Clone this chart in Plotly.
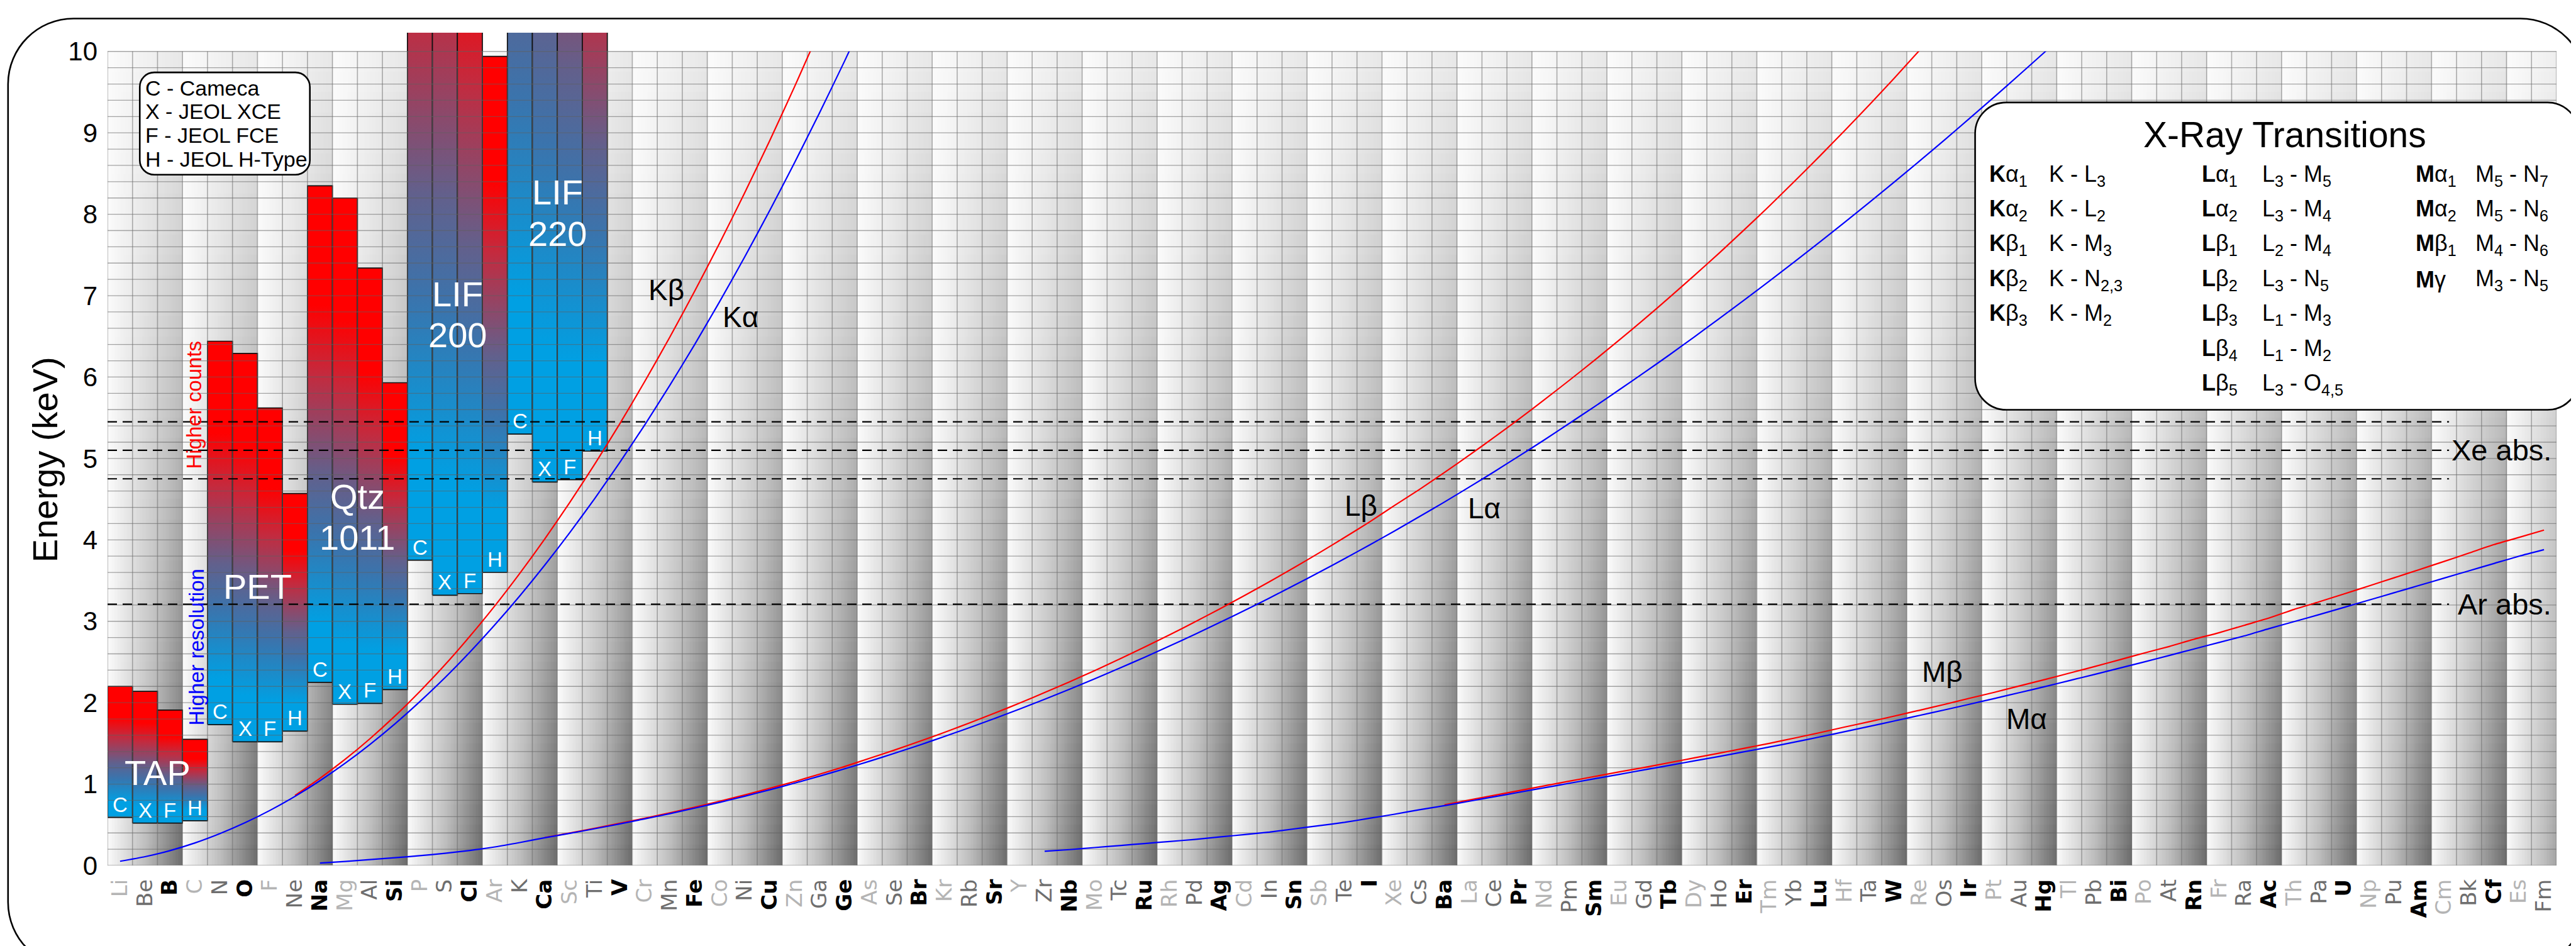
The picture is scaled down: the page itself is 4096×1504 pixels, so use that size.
import numpy as np
import plotly.graph_objects as go

# ---------------- data ----------------
ELEMENTS = ["Li","Be","B","C","N","O","F","Ne","Na","Mg","Al","Si","P","S","Cl","Ar","K","Ca","Sc","Ti",
            "V","Cr","Mn","Fe","Co","Ni","Cu","Zn","Ga","Ge","As","Se","Br","Kr","Rb","Sr","Y","Zr","Nb","Mo",
            "Tc","Ru","Rh","Pd","Ag","Cd","In","Sn","Sb","Te","I","Xe","Cs","Ba","La","Ce","Pr","Nd","Pm","Sm",
            "Eu","Gd","Tb","Dy","Ho","Er","Tm","Yb","Lu","Hf","Ta","W","Re","Os","Ir","Pt","Au","Hg","Tl","Pb",
            "Bi","Po","At","Rn","Fr","Ra","Ac","Th","Pa","U","Np","Pu","Am","Cm","Bk","Cf","Es","Fm"]

SPECTROMETERS = ["C", "X", "F", "H"]
CRYSTALS = ["TAP", "PET", "Qtz<br>1011", "LIF<br>200", "LIF<br>220"]
CRYSTAL_FIRST = ["Li", "N", "Na", "P", "K"]          # first element column of each crystal's 4 bars
TAP_LOW = [0.59, 0.52, 0.52, 0.55]
TAP_HIGH = [2.20, 2.14, 1.91, 1.55]
PET_LOW = [1.73, 1.52, 1.52, 1.65]
PET_HIGH = [6.44, 6.29, 5.62, 4.57]
QTZ_LOW = [2.25, 1.98, 1.99, 2.16]
QTZ_HIGH = [8.35, 8.20, 7.34, 5.93]
LIF200_LOW = [3.75, 3.32, 3.34, 3.60]
LIF200_HIGH = [14.5, 15.0, 13.5, 9.94]   # first three run off the top of the chart
LIF220_LOW = [5.30, 4.71, 4.74, 5.09]
LIF220_HIGH = [19.0, 18.5, 16.7, 14.0]   # all run off the top of the chart

KA_START, KA = "Li", [0.052, 0.108, 0.183, 0.277, 0.392, 0.525, 0.677, 0.849, 1.041, 1.254, 1.487, 1.740,
                      2.014, 2.307, 2.622, 2.957, 3.313, 3.691, 4.090, 4.510, 4.952, 5.414, 5.898, 6.403,
                      6.930, 7.477, 8.047, 8.638, 9.251, 9.885, 10.543]
KB_START, KB = "Ne", [0.86, 1.071, 1.302, 1.557, 1.836, 2.139, 2.464, 2.816, 3.190, 3.590, 4.013, 4.461,
                      4.932, 5.427, 5.947, 6.490, 7.058, 7.649, 8.265, 8.905, 9.572, 10.264]
LA_START, LA = "Na", [0.030, 0.050, 0.072, 0.095, 0.120, 0.150, 0.185, 0.228, 0.282, 0.341, 0.395, 0.452,
                      0.511, 0.573, 0.637, 0.705, 0.776, 0.851, 0.930, 1.012, 1.098, 1.188, 1.282, 1.379,
                      1.480, 1.586, 1.694, 1.806, 1.922, 2.042, 2.166, 2.293, 2.424, 2.558, 2.696, 2.838,
                      2.984, 3.133, 3.286, 3.444, 3.604, 3.769, 3.937, 4.109, 4.286, 4.465, 4.650, 4.839,
                      5.033, 5.229, 5.432, 5.636, 5.845, 6.056, 6.272, 6.494, 6.719, 6.947, 7.179, 7.414,
                      7.654, 7.898, 8.145, 8.396, 8.651, 8.910, 9.174, 9.441, 9.712, 9.987, 10.267]
LB_START, LB = "Ca", [0.344, 0.399, 0.458, 0.519, 0.581, 0.647, 0.717, 0.790, 0.866, 0.948, 1.032, 1.122,
                      1.216, 1.317, 1.419, 1.526, 1.636, 1.752, 1.871, 1.995, 2.124, 2.257, 2.394, 2.536,
                      2.683, 2.834, 2.990, 3.151, 3.316, 3.487, 3.662, 3.843, 4.029, 4.220, 4.422, 4.620,
                      4.828, 5.042, 5.262, 5.489, 5.722, 5.961, 6.205, 6.456, 6.713, 6.978, 7.248, 7.525,
                      7.811, 8.101, 8.402, 8.709, 9.023, 9.343, 9.672, 10.010, 10.355]
MA_START, MA = "Zr", [0.175, 0.195, 0.22, 0.245, 0.27, 0.295, 0.32, 0.35, 0.38, 0.41, 0.45, 0.49, 0.53,
                      0.58, 0.63, 0.685, 0.735, 0.79, 0.845, 0.90, 0.955, 1.01, 1.065, 1.12, 1.175, 1.23,
                      1.285, 1.34, 1.397, 1.455, 1.515, 1.578, 1.643, 1.709, 1.775, 1.843, 1.910, 1.980,
                      2.051, 2.123, 2.195, 2.271, 2.346, 2.423, 2.50, 2.58, 2.66, 2.74, 2.82, 2.91, 2.996,
                      3.082, 3.171, 3.261, 3.35, 3.44, 3.53, 3.62, 3.71, 3.80, 3.88]
MB_START, MB = "Ba", [0.745, 0.805, 0.862, 0.92, 0.978, 1.036, 1.093, 1.15, 1.205, 1.263, 1.322, 1.38, 1.44,
                      1.50, 1.565, 1.63, 1.70, 1.766, 1.835, 1.906, 1.978, 2.053, 2.127, 2.205, 2.282,
                      2.362, 2.443, 2.526, 2.61, 2.69, 2.78, 2.86, 2.95, 3.04, 3.146, 3.239, 3.336, 3.435,
                      3.534, 3.634, 3.735, 3.838, 3.942, 4.03, 4.12]

XE_ABS = [5.45, 5.10, 4.75]
AR_ABS = [3.21]
Y_TICKS = list(range(0, 11))
GRID_STEP = 0.2

TRANS_K = [("K", "α", "1", "K - L<sub>3</sub>"), ("K", "α", "2", "K - L<sub>2</sub>"),
           ("K", "β", "1", "K - M<sub>3</sub>"), ("K", "β", "2", "K - N<sub>2,3</sub>"),
           ("K", "β", "3", "K - M<sub>2</sub>")]
TRANS_L = [("L", "α", "1", "L<sub>3</sub> - M<sub>5</sub>"), ("L", "α", "2", "L<sub>3</sub> - M<sub>4</sub>"),
           ("L", "β", "1", "L<sub>2</sub> - M<sub>4</sub>"), ("L", "β", "2", "L<sub>3</sub> - N<sub>5</sub>"),
           ("L", "β", "3", "L<sub>1</sub> - M<sub>3</sub>"), ("L", "β", "4", "L<sub>1</sub> - M<sub>2</sub>"),
           ("L", "β", "5", "L<sub>3</sub> - O<sub>4,5</sub>")]
TRANS_M = [("M", "α", "1", "M<sub>5</sub> - N<sub>7</sub>"), ("M", "α", "2", "M<sub>5</sub> - N<sub>6</sub>"),
           ("M", "β", "1", "M<sub>4</sub> - N<sub>6</sub>"), ("M", "γ", "", "M<sub>3</sub> - N<sub>5</sub>")]
LEGEND_LINES = ["C - Cameca", "X - JEOL XCE", "F - JEOL FCE", "H - JEOL H-Type"]

# ---------------- geometry / style ----------------
W, H = 4096, 1504
S = W / 4635.0
L = 185 * S
R = W - 4591 * S
T = 49.5 * S
B = H - 1548 * S
PW, PH = W - L - R, H - T - B
YMAX = 10.23
NCOL = len(ELEMENTS)
FONT = "Liberation Sans, Arial, sans-serif"


def PX(xf):
    return (xf * S - L) / PW


def PY(yf):
    return 1 - (yf * S - T) / PH


def fs(v):
    return int(round(v * S))


def idx(el):
    return ELEMENTS.index(el)


fig = go.Figure()

# background gradient columns (groups of three)
NSUB, NY = 16, 40
xs = (np.arange(NCOL * NSUB) + 0.5) / NSUB - 0.5
col = np.floor(xs + 0.5)
u = ((col % 3) + (xs + 0.5 - col)) / 3.0
ys = (np.arange(NY) + 0.5) * 10.0 / NY
vy = 1 - 0.085 * ys
z = np.outer(vy, u)
fig.add_trace(go.Heatmap(x=xs, y=ys, z=z, zmin=0, zmax=1, showscale=False, hoverinfo="skip",
                         colorscale=[[0, "#fbfbfb"], [0.5, "#bdbdbd"], [1, "#6a6a6a"]], zsmooth=False))

# crystal bars
CS = [[0, "#00a0e3"], [0.12, "#00a0e3"], [0.30, "#3a74ad"], [0.42, "#62608c"],
      [0.62, "#c42a3e"], [0.76, "#ff0000"], [1, "#ff0000"]]
LOWS = [TAP_LOW, PET_LOW, QTZ_LOW, LIF200_LOW, LIF220_LOW]
HIGHS = [TAP_HIGH, PET_HIGH, QTZ_HIGH, LIF200_HIGH, LIF220_HIGH]
letter_ann = []
for c, first in enumerate(CRYSTAL_FIRST):
    i0 = idx(first)
    for k, sp in enumerate(SPECTROMETERS):
        xi = i0 + k
        lo, hi = LOWS[c][k], HIGHS[c][k]
        fig.add_trace(go.Scatter(x=[xi - 0.5, xi + 0.5, xi + 0.5, xi - 0.5, xi - 0.5],
                                 y=[lo, lo, hi, hi, lo], mode="lines", fill="toself",
                                 fillgradient=dict(type="vertical", colorscale=CS, start=lo, stop=hi),
                                 line=dict(color="#111111", width=1.7), hoverinfo="skip"))
        letter_ann.append(dict(x=xi, y=lo, xref="x", yref="y", text=sp, showarrow=False,
                               xanchor="center", yanchor="bottom", yshift=0,
                               font=dict(family=FONT, size=fs(37), color="white")))

# grid lines (drawn above the bars)
gx, gy = [], []
for v in np.arange(0, 10 + 1e-9, GRID_STEP):
    gx += [-0.5, NCOL - 0.5, None]
    gy += [v, v, None]
fig.add_trace(go.Scatter(x=gx, y=gy, mode="lines", line=dict(color="rgba(95,95,95,0.55)", width=1.3),
                         hoverinfo="skip"))
vx, vyy = [], []
for k in range(NCOL + 1):
    vx += [k - 0.5, k - 0.5, None]
    vyy += [0, 10, None]
fig.add_trace(go.Scatter(x=vx, y=vyy, mode="lines", line=dict(color="rgba(110,110,110,0.55)", width=1.6),
                         hoverinfo="skip"))

# absorption dashed lines (on the clipped 0-10 subplot)
DASH_END = 93.2
for v in XE_ABS + AR_ABS:
    fig.add_trace(go.Scatter(x=[-0.5, DASH_END], y=[v, v], yaxis="y2", mode="lines",
                             line=dict(color="black", width=2.2, dash="15px,9px"), hoverinfo="skip"))

# emission curves
for start, vals, color in [(KB_START, KB, "#ff0000"), (KA_START, KA, "#0000ff"),
                           (LB_START, LB, "#ff0000"), (LA_START, LA, "#0000ff"),
                           (MB_START, MB, "#ff0000"), (MA_START, MA, "#0000ff")]:
    x = list(range(idx(start), idx(start) + len(vals)))
    fig.add_trace(go.Scatter(x=x, y=vals, yaxis="y2", mode="lines",
                             line=dict(color=color, width=2.2, shape="spline", smoothing=0.6),
                             hoverinfo="skip"))

# ---------------- annotations ----------------
ann = list(letter_ann)
CRYSTAL_Y = [[1.14], [3.43], [4.53, 4.03], [7.02, 6.52], [8.27, 7.76]]
for c, name in enumerate(CRYSTALS):
    xc = idx(CRYSTAL_FIRST[c]) + 1.5
    for part, yv in zip(name.split("<br>"), CRYSTAL_Y[c]):
        ann.append(dict(x=xc, y=yv, xref="x", yref="y", text=part, showarrow=False,
                        xanchor="center", yanchor="middle",
                        font=dict(family=FONT, size=fs(63), color="white")))

for txt, xv, yv in [("Kβ", 21.87, 7.07), ("Kα", 24.83, 6.74), ("Lβ", 49.65, 4.42),
                    ("Lα", 54.58, 4.39), ("Mβ", 72.93, 2.38), ("Mα", 76.29, 1.80)]:
    ann.append(dict(x=xv, y=yv, xref="x", yref="y", text=txt, showarrow=False,
                    xanchor="center", yanchor="middle", font=dict(family=FONT, size=fs(52), color="black")))

ann.append(dict(x=PX(4584), y=XE_ABS[1], xref="paper", yref="y", text="Xe abs.", showarrow=False,
                xanchor="right", yanchor="middle", font=dict(family=FONT, size=fs(53), color="black")))
ann.append(dict(x=PX(4584), y=AR_ABS[0], xref="paper", yref="y", text="Ar abs.", showarrow=False,
                xanchor="right", yanchor="middle", font=dict(family=FONT, size=fs(53), color="black")))

ann.append(dict(x=2.95, y=5.66, xref="x", yref="y", text="Higher counts", showarrow=False, textangle=-90,
                xanchor="center", yanchor="middle", font=dict(family=FONT, size=fs(37), color="#ff0000")))
ann.append(dict(x=3.06, y=2.68, xref="x", yref="y", text="Higher resolution", showarrow=False, textangle=-90,
                xanchor="center", yanchor="middle", font=dict(family=FONT, size=fs(37), color="#0000ff")))

ann.append(dict(x=PX(72), y=PY(818), xref="paper", yref="paper", text="Energy (keV)", showarrow=False,
                textangle=-90, xanchor="center", yanchor="middle",
                font=dict(family=FONT, size=fs(63), color="black")))

for k, line in enumerate(LEGEND_LINES):
    ann.append(dict(x=PX(251), y=PY(149 + k * 42.5), xref="paper", yref="paper", text=line, showarrow=False,
                    xanchor="left", yanchor="middle", font=dict(family=FONT, size=fs(39), color="black")))

ann.append(dict(x=PX(4102), y=PY(233), xref="paper", yref="paper", text="X-Ray Transitions", showarrow=False,
                xanchor="center", yanchor="middle", font=dict(family=FONT, size=fs(64), color="black")))
for rows, xs_sym, xs_tr in [(TRANS_K, 3568, 3676), (TRANS_L, 3951, 4059), (TRANS_M, 4335, 4443)]:
    for k, (sh, gr, sub, tr) in enumerate(rows):
        yv = PY(306 + k * 62.7)
        sym = f"<b>{sh}</b>{gr}" + (f"<sub>{sub}</sub>" if sub else "")
        ann.append(dict(x=PX(xs_sym), y=yv, xref="paper", yref="paper", text=sym, showarrow=False,
                        xanchor="left", yanchor="middle", font=dict(family=FONT, size=fs(41), color="black")))
        ann.append(dict(x=PX(xs_tr), y=yv, xref="paper", yref="paper", text=tr, showarrow=False,
                        xanchor="left", yanchor="middle", font=dict(family=FONT, size=fs(41), color="black")))


# ---------------- shapes ----------------
def rounded_path(x0, y0, x1, y1, r):
    k = 0.5523 * r

    def P(a, b):
        return f"{PX(a):.6f},{PY(b):.6f}"
    return (f"M {P(x0 + r, y0)} L {P(x1 - r, y0)} C {P(x1 - r + k, y0)} {P(x1, y0 + r - k)} {P(x1, y0 + r)} "
            f"L {P(x1, y1 - r)} C {P(x1, y1 - r + k)} {P(x1 - r + k, y1)} {P(x1 - r, y1)} "
            f"L {P(x0 + r, y1)} C {P(x0 + r - k, y1)} {P(x0, y1 - r + k)} {P(x0, y1 - r)} "
            f"L {P(x0, y0 + r)} C {P(x0, y0 + r - k)} {P(x0 + r - k, y0)} {P(x0 + r, y0)} Z")


shapes = [
    dict(type="path", xref="paper", yref="paper", path=rounded_path(6, 24, 4644, 1732, 118),
         line=dict(color="black", width=2.6), fillcolor="rgba(0,0,0,0)", layer="above"),
    dict(type="path", xref="paper", yref="paper", path=rounded_path(243, 121, 549, 305, 26),
         line=dict(color="black", width=2.6), fillcolor="white", layer="above"),
    dict(type="path", xref="paper", yref="paper", path=rounded_path(3545, 175, 4631, 728, 56),
         line=dict(color="black", width=2.6), fillcolor="white", layer="above"),
]

# ---------------- axes ----------------
LABEL_COLORS = ["#b4b4b4", "#6e6e6e", "#000000"]
ticktext = []
for i, el in enumerate(ELEMENTS):
    t = f'<span style="color:{LABEL_COLORS[i % 3]}">{el}</span>'
    ticktext.append(f"<b>{t}</b>" if i % 3 == 2 else t)

fig.update_layout(
    width=W, height=H, margin=dict(l=L, r=R, t=T, b=B, autoexpand=False),
    paper_bgcolor="white", plot_bgcolor="rgba(0,0,0,0)", showlegend=False,
    xaxis=dict(range=[-0.5, NCOL - 0.5], tickmode="array", tickvals=list(range(NCOL)), ticktext=ticktext,
               tickangle=-90, tickfont=dict(family="DejaVu Sans, Verdana, sans-serif", size=fs(38)),
               showgrid=False, zeroline=False, showline=False, ticks="", ticklabelstandoff=14,
               automargin=False),
    yaxis=dict(range=[0, YMAX], tickmode="array", tickvals=Y_TICKS, showgrid=False, zeroline=False,
               showline=False, ticks="", tickfont=dict(family=FONT, size=fs(48), color="black"),
               ticklabelstandoff=15, automargin=False),
    yaxis2=dict(domain=[0, 10 / YMAX], range=[0, 10], anchor="x", visible=False, showgrid=False,
                zeroline=False),
    annotations=ann, shapes=shapes,
)

fig.write_html("out.html")
